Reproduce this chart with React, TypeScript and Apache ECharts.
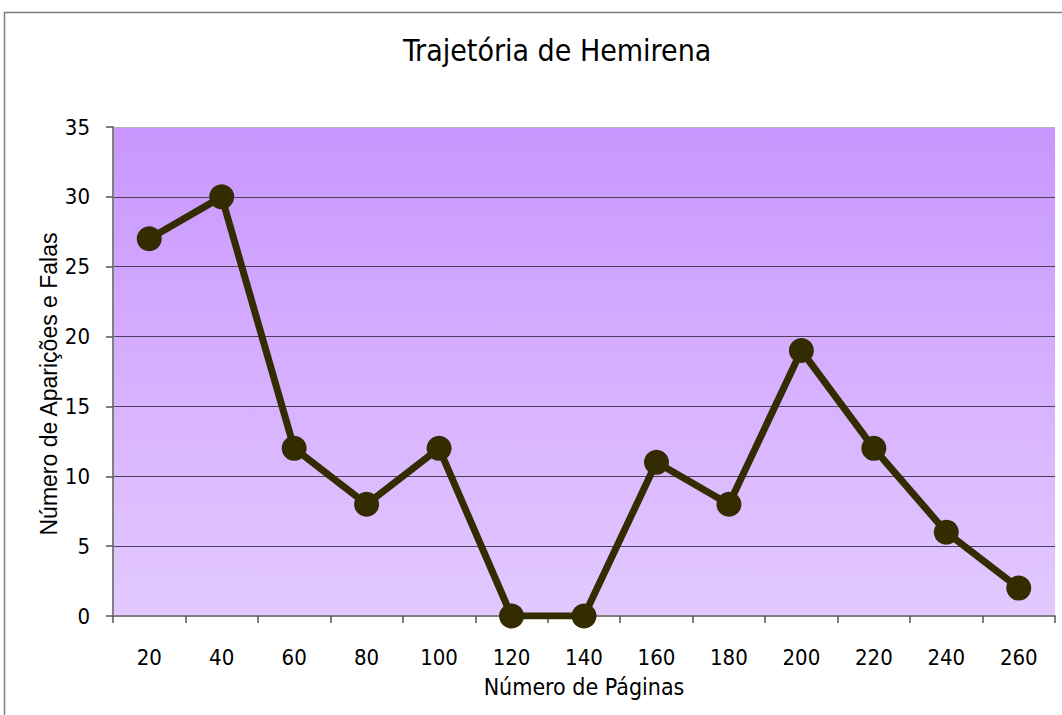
import React, { useEffect, useRef } from "react";
import * as echarts from "echarts";

const pages = ["20", "40", "60", "80", "100", "120", "140", "160", "180", "200", "220", "240", "260"];
const appearances = [27, 30, 12, 8, 12, 0, 0, 11, 8, 19, 12, 6, 2];

const FONT = "'DejaVu Sans Condensed', 'Liberation Sans Narrow', 'DejaVu Sans'";
const YFONT = "'Liberation Sans', Arial, sans-serif";

export default function App() {
  const ref = useRef<HTMLDivElement>(null);
  useEffect(() => {
    if (!ref.current) return;
    const chart = echarts.init(ref.current, undefined, { renderer: "svg" });
    const grid = "#4a3f5a";
    chart.setOption({
      animation: false,
      backgroundColor: "#ffffff",
      title: {
        text: "Trajetória de Hemirena",
        left: 398,
        top: 30,
        textStyle: { fontFamily: FONT, fontSize: 30, fontWeight: "normal", color: "#000" },
      },
      graphic: [
        {
          type: "rect",
          shape: { x: 4.5, y: 12.5, width: 1070, height: 720 },
          style: { fill: "none", stroke: "#808080", lineWidth: 1.5 },
          silent: true,
        },
        {
          type: "text",
          x: 49,
          y: 384,
          rotation: Math.PI / 2,
          style: {
            text: "Número de Aparições e Falas",
            fontFamily: YFONT,
            fontSize: 23,
            fill: "#000",
            align: "center",
            verticalAlign: "middle",
          },
          silent: true,
        },
      ],
      grid: {
        left: 113,
        right: 7,
        top: 127,
        bottom: 99,
        show: true,
        borderWidth: 0,
        backgroundColor: new echarts.graphic.LinearGradient(0, 0, 0, 1, [
          { offset: 0, color: "#c996ff" },
          { offset: 1, color: "#e3c9ff" },
        ]),
      },
      xAxis: {
        type: "category",
        data: pages,
        boundaryGap: true,
        name: "Número de Páginas",
        nameLocation: "middle",
        nameGap: 59,
        nameTextStyle: { fontFamily: FONT, fontSize: 23, color: "#000" },
        axisLine: { lineStyle: { color: "#808080", width: 2 } },
        axisTick: { show: true, length: 7, lineStyle: { color: "#555", width: 1.5 } },
        axisLabel: { fontFamily: FONT, fontSize: 22, color: "#000", margin: 30 },
      },
      yAxis: {
        type: "value",
        min: 0,
        max: 35,
        interval: 5,
        axisLine: { show: true, lineStyle: { color: "#808080", width: 2 } },
        axisTick: { show: true, length: 7, lineStyle: { color: "#555", width: 1.5 } },
        axisLabel: { fontFamily: FONT, fontSize: 22, color: "#000", margin: 23 },
        splitLine: {
          show: true,
          lineStyle: {
            color: [grid, grid, grid, grid, grid, grid, grid, "#b8b0c0"],
            width: 1.2,
          },
        },
      },
      series: [
        {
          type: "line",
          data: appearances,
          symbol: "circle",
          symbolSize: 25,
          lineStyle: { color: "#332c00", width: 7 },
          itemStyle: { color: "#332c00" },
        },
      ],
    });
    return () => chart.dispose();
  }, []);
  return (
    <div
      ref={ref}
      style={{ position: "absolute", left: 0, top: 0, width: 1062, height: 715 }}
    />
  );
}
